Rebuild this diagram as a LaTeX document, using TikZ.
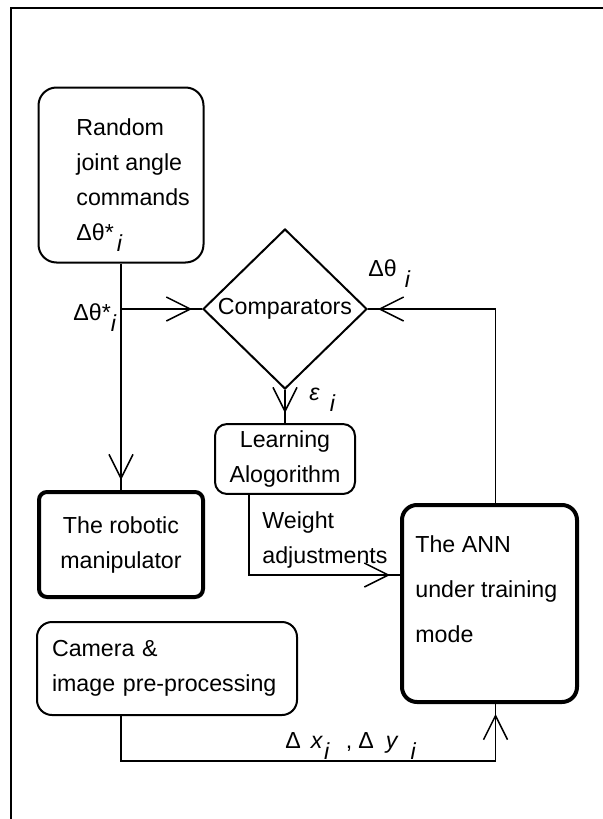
\documentclass[tikz,border=0pt]{standalone}
\usepackage{fontspec}
\setmainfont{Liberation Sans}
\usetikzlibrary{arrows.meta,shapes.geometric,decorations.markings}

% index set low and apart, as in the labels
\newcommand{\lowi}[1][2pt]{\hspace{#1}\raisebox{-0.5em}{\textit{i}}}

\tikzset{
  box/.style={draw, rounded corners=7.5pt, line width=1pt},
  thickbox/.style={draw, rounded corners=7.5pt, line width=2pt},
  txt/.style={inner sep=0pt, align=left},
  lbl/.style={inner sep=0pt},
  flow/.style={draw, line width=0.75pt, postaction={decorate},
    decoration={markings, mark=at position -5pt with {\arrow{Straight Barb[length=12pt,width=12pt]}}}}
}

\begin{document}
\begin{tikzpicture}[x=0.5pt,y=-0.5pt,every node/.style={font=\fontsize{11.6pt}{17.5pt}\selectfont}]
\useasboundingbox (0,0) rectangle (603,819);
% outer frame
\draw[line width=1pt] (11,819) -- (11,8) -- (603,8);

% blocks
\node[box, rounded corners=9pt, minimum width=82.5pt, minimum height=87.5pt] (random) at (121,175) {};
\node[txt, anchor=north west] (randomtext) at (76,118) {Random\\joint angle\\commands\\Δθ*\lowi[1.5pt]};
\node[diamond, draw, line width=1pt, inner sep=0pt, minimum width=82pt, minimum height=80pt] (cmp) at (285,309) {Comparators};
\node[box, rounded corners=6pt, align=center, minimum width=70pt, minimum height=34pt] (learn) at (285,459) {Learning\\Alogorithm};
\node[thickbox, rounded corners=4pt, align=center, minimum width=82pt, minimum height=52.5pt] (robot) at (121,544.5) {The robotic\\manipulator};
\node[thickbox, minimum width=87.5pt, minimum height=98.5pt] (ann) at (489.5,603.5) {};
\node[txt, anchor=north west, font=\fontsize{11.6pt}{22.5pt}\selectfont] (anntext) at (415,535) {The ANN\\under training\\mode};
\node[box, align=left, text width=115pt, inner xsep=7.5pt, minimum height=46.5pt] (camera) at (167,668.5) {Camera \&\\image pre-processing};

\coordinate (split) at (random.south |- cmp.west);
\coordinate (wbend) at (0,575);
\coordinate (bend) at (0,761);

% signal lines
\draw[flow] (random.south) -- (robot.north);
\draw[flow] (split) -- (cmp.west);
\draw[flow] (cmp.south) -- (learn.north);
\draw[flow] ([xshift=17.5pt]learn.south west) |- (ann.west |- wbend);
\draw[flow] ([xshift=3pt]ann.north) |- (cmp.east);
\draw[flow] (camera.south -| split) -- (split |- bend) -| ([xshift=3pt]ann.south);

% line labels
\node[lbl, anchor=base west] (lblcmd) at (73,320) {Δθ*\lowi[0pt]};
\node[lbl, anchor=base west] (lblfb) at (368,276) {Δθ\lowi[4pt]};
\node[lbl, anchor=base west] (lblerr) at (309,400) {\textit{ε}\lowi[5pt]};
\node[txt, anchor=north west] (lblweight) at (262,511) {Weight\\adjustments};
\node[lbl, anchor=base west] (lblxy) at (285,748) {Δ\hspace{5pt}\textit{x}\lowi[0.5pt]\hspace{8pt},\hspace{3pt}Δ\hspace{6pt}\textit{y}\lowi[6pt]};
\end{tikzpicture}
\end{document}
